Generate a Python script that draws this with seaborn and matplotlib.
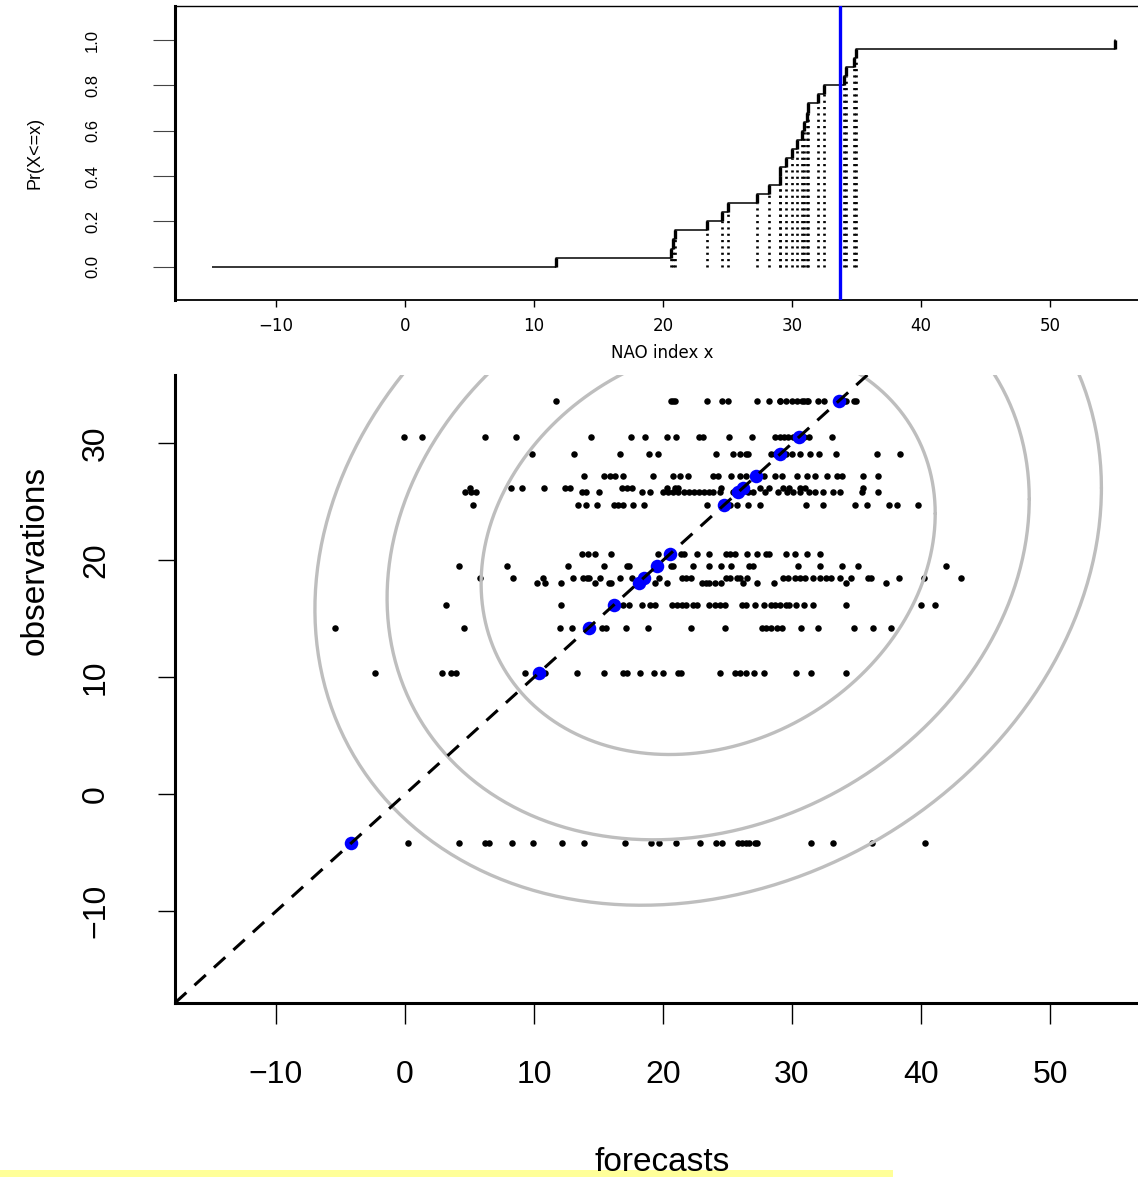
import numpy as np
import pandas as pd
import matplotlib
matplotlib.use("Agg")
import matplotlib.pyplot as plt
from matplotlib.patches import Rectangle
import seaborn as sns

sns.set_style("white")
plt.rcParams["font.family"] = ["Liberation Sans", "DejaVu Sans"]
plt.rcParams["text.color"] = "black"
plt.rcParams["axes.labelcolor"] = "black"
plt.rcParams["xtick.color"] = "black"
plt.rcParams["ytick.color"] = "black"

# ==========================================
# Data
# ==========================================

# ensemble members of the top year (ECDF panel and top scatter row)
top_members = [11.7, 20.6, 20.75, 20.9, 23.4, 24.55, 25.05, 27.3, 28.2, 29.05,
               29.1, 29.5, 30.0, 30.4, 30.75, 30.95, 31.15, 31.25, 32.0, 32.5,
               34.0, 34.2, 34.8, 34.95]
lower_bound = -15.0
upper_bound = 55.0
obs_marker = 33.7

# observed values (one scatter row each)
obs_values = [33.65, 30.55, 29.05, 27.2, 26.2, 25.8, 24.75, 20.55, 19.5,
              18.5, 18.1, 16.2, 14.25, 10.4, -4.2]

fc_30_5 = [-0.1, 1.3, 6.2, 8.6, 14.45, 17.55, 18.6, 20.3, 21.0, 22.8, 23.1,
           25.1, 26.9, 28.7, 29.1, 29.4, 29.7, 30.1, 30.9, 31.3, 33.1]
fc_29_0 = [9.85, 13.1, 16.7, 18.9, 19.6, 24.1, 25.4, 26.0, 26.4, 26.6, 28.4,
           28.7, 29.5, 30.0, 30.6, 31.4, 32.1, 33.4, 36.6, 38.4]
fc_27_2 = [13.9, 15.4, 15.9, 16.3, 16.9, 19.25, 20.8, 21.3, 21.95, 23.9, 24.3,
           25.3, 25.97, 26.4, 27.3, 27.8, 28.7, 29.2, 30.4, 31.2, 31.8, 32.7,
           33.5, 33.85, 35.5, 36.7]
fc_26_2 = [5.0, 8.2, 9.1, 10.8, 12.4, 12.8, 16.8, 17.2, 17.6, 20.3, 20.9, 21.2,
           24.5, 27.5, 28.2, 29.3, 29.8, 30.6, 31.0, 35.5]
fc_25_8 = [4.65, 5.1, 5.5, 13.7, 14.0, 15.0, 18.35, 19.0, 20.0, 20.4, 20.8,
           21.2, 21.6, 22.0, 22.4, 22.8, 23.2, 23.6, 23.9, 24.4, 25.45, 26.6,
           27.0, 27.9, 28.9, 29.6, 30.1, 30.6, 31.3, 31.8, 32.4, 33.2, 33.7,
           35.4, 36.7]
fc_24_7 = [5.25, 13.4, 14.0, 14.9, 16.2, 16.5, 16.9, 17.7, 18.5, 23.4, 25.2,
           25.7, 26.6, 27.5, 31.1, 32.4, 34.9, 35.8, 37.5, 38.1, 39.8]
fc_20_5 = [13.7, 14.2, 14.7, 16.0, 19.6, 21.4, 21.6, 22.6, 23.6, 24.9, 25.2,
           25.6, 26.5, 27.3, 28.0, 28.2, 29.5, 30.2, 31.2, 32.2]
fc_19_5 = [4.2, 7.9, 12.6, 15.4, 17.2, 17.4, 20.6, 20.8, 22.3, 23.6, 24.5,
           25.3, 26.7, 26.95, 30.5, 32.2, 33.9, 35.1, 41.9]
fc_18_5 = [5.8, 8.35, 10.7, 13.0, 13.8, 14.1, 14.3, 15.1, 16.7, 17.6, 19.7,
           21.5, 21.8, 22.2, 24.9, 25.2, 25.7, 26.0, 26.5, 29.3, 29.7, 30.2,
           30.6, 31.0, 31.65, 32.2, 32.6, 33.0, 33.7, 34.6, 35.9, 36.1, 38.3,
           40.2, 43.1]
fc_18_1 = [10.2, 10.85, 12.1, 14.7, 15.8, 16.0, 19.4, 20.3, 23.0, 23.3, 23.6,
           24.0, 24.5, 26.2, 27.3, 28.6, 34.2, 37.3]
fc_16_2 = [3.2, 12.1, 16.9, 17.4, 18.35, 19.0, 19.4, 20.7, 21.1, 21.45, 21.8,
           22.35, 22.65, 23.6, 24.0, 24.4, 24.8, 26.1, 26.4, 27.1, 27.8, 28.35,
           28.7, 29.1, 29.5, 29.8, 30.3, 30.9, 31.65, 34.2, 40.0, 41.1]
fc_14_2 = [-5.4, 4.6, 12.0, 12.97, 15.25, 15.6, 17.1, 18.85, 22.2, 24.8, 27.65,
           28.0, 28.4, 28.8, 29.2, 30.7, 32.0, 34.8, 36.3, 37.65]
fc_10_4 = [-2.3, 2.9, 3.6, 3.95, 9.3, 10.85, 13.3, 15.4, 16.9, 17.2, 18.25,
           19.3, 20.0, 21.2, 21.4, 24.4, 25.6, 26.0, 26.4, 27.05, 27.85, 30.3,
           31.5, 34.2]
fc_m4_2 = [0.2, 4.2, 6.2, 6.5, 8.3, 9.95, 12.15, 13.9, 17.05, 19.1, 19.7, 21.0,
           22.9, 24.1, 24.55, 25.8, 26.1, 26.4, 26.7, 27.1, 27.3, 31.5, 33.2,
           36.2, 40.3]

forecast_rows = [top_members, fc_30_5, fc_29_0, fc_27_2, fc_26_2, fc_25_8,
                 fc_24_7, fc_20_5, fc_19_5, fc_18_5, fc_18_1, fc_16_2, fc_14_2,
                 fc_10_4, fc_m4_2]

# bivariate normal contours (centre, sd, correlation, squared distances)
ell_center = (23.5, 21.0)
ell_sd = (17.6, 17.6)
ell_rho = 0.17
ell_levels = [1.0, 2.0, 3.0]

x_range = (-17.83, 57.75)

# ==========================================
# Figure layout (pixels of a 1138x1177 canvas)
# ==========================================

W, H = 1138, 1177
fig = plt.figure(figsize=(W / 100, H / 100), dpi=100)
ax_top = fig.add_axes([175 / W, (H - 300) / H, 975 / W, 294 / H])
ax_bot = fig.add_axes([175 / W, (H - 1003) / H, 975 / W, 628 / H])

fig.patches.append(Rectangle((0, 0), 893 / W, 7 / H, transform=fig.transFigure,
                             facecolor="#FFFF99", edgecolor="none", zorder=-1))

narrow = ["Liberation Sans Narrow", "Liberation Sans"]

# ==========================================
# Top panel: ECDF
# ==========================================

ecdf_vals = np.sort(np.array(top_members + [upper_bound]))
n = len(ecdf_vals)
levels = np.arange(n + 1) / n

members = np.sort(np.array(top_members))
ax_top.vlines(members, 0, levels[:len(members)], colors="black",
              linestyles=(0, (0.8, 1.6)), linewidth=1.9, zorder=1)

sns.ecdfplot(x=ecdf_vals, ax=ax_top, color="black", linewidth=1.1, zorder=3)
ax_top.hlines(0, lower_bound, ecdf_vals[0], colors="black", linewidth=1.1, zorder=3)
ax_top.vlines(ecdf_vals, levels[:-1], levels[1:], colors="black", linewidth=2.4, zorder=3)

ax_top.axvline(obs_marker, color="#0000FF", linewidth=2.4, zorder=4)

ax_top.set_xlim(*x_range)
ax_top.set_ylim(-0.147, 1.15)
ax_top.set_xticks([-10, 0, 10, 20, 30, 40, 50])
ax_top.set_yticks([0.0, 0.2, 0.4, 0.6, 0.8, 1.0])
ax_top.set_yticklabels(["0.0", "0.2", "0.4", "0.6", "0.8", "1.0"])
ax_top.tick_params(axis="x", direction="out", length=5, width=1, pad=7,
                   labelsize=12, bottom=True)
ax_top.tick_params(axis="y", direction="out", length=16, width=0.8, color="#444444",
                   pad=38, labelsize=12, labelrotation=90, left=True)
for lab in ax_top.get_xticklabels():
    lab.set_family("DejaVu Sans")
for lab in ax_top.get_yticklabels():
    lab.set_family(narrow)
    lab.set_va("center")

ax_top.set_xlabel("NAO index x", fontsize=12, family="DejaVu Sans")
ax_top.xaxis.set_label_coords(0.5, -0.15)
ax_top.set_ylabel("Pr(X<=x)", fontsize=13, family=narrow)
ax_top.yaxis.set_label_coords(-0.135, 0.5)

ax_top.spines["right"].set_visible(False)
ax_top.spines["left"].set_linewidth(2.2)
ax_top.spines["top"].set_linewidth(1.0)
ax_top.spines["bottom"].set_linewidth(1.3)
for s in ax_top.spines.values():
    s.set_color("black")

# ==========================================
# Bottom panel: forecasts vs observations
# ==========================================

df = pd.DataFrame({
    "forecasts": np.concatenate(forecast_rows),
    "observations": np.concatenate([[o] * len(r) for o, r in zip(obs_values, forecast_rows)]),
})

sns.scatterplot(data=df, x="forecasts", y="observations", color="black", s=22,
                linewidth=0, ax=ax_bot, zorder=2)

t = np.linspace(0, 2 * np.pi, 400)
cov = np.array([[ell_sd[0] ** 2, ell_rho * ell_sd[0] * ell_sd[1]],
                [ell_rho * ell_sd[0] * ell_sd[1], ell_sd[1] ** 2]])
chol = np.linalg.cholesky(cov)
for lev in ell_levels:
    circ = np.sqrt(lev) * np.vstack([np.cos(t), np.sin(t)])
    pts = chol @ circ
    ax_bot.plot(ell_center[0] + pts[0], ell_center[1] + pts[1],
                color="#BEBEBE", linewidth=2.4, zorder=3)

sns.scatterplot(x=obs_values, y=obs_values, color="#0000FF", s=95, linewidth=0,
                ax=ax_bot, zorder=4)
ax_bot.axline((0, 0), slope=1, color="black", linewidth=2.2,
              linestyle=(0, (5, 3.6)), zorder=5)

ax_bot.set_xlim(*x_range)
ax_bot.set_ylim(-17.84, 35.84)
ax_bot.set_xticks([-10, 0, 10, 20, 30, 40, 50])
ax_bot.set_yticks([-10, 0, 10, 20, 30])
ax_bot.tick_params(axis="x", direction="out", length=15, width=1, pad=26,
                   labelsize=23, bottom=True)
ax_bot.tick_params(axis="y", direction="out", length=12, width=1, pad=34,
                   labelsize=23, labelrotation=90, left=True)
for lab in ax_bot.get_yticklabels():
    lab.set_va("center")

ax_bot.set_xlabel("forecasts", fontsize=24)
ax_bot.xaxis.set_label_coords(0.5, -0.229)
ax_bot.set_ylabel("observations", fontsize=24)
ax_bot.yaxis.set_label_coords(-0.128, 0.704)

ax_bot.spines["top"].set_visible(False)
ax_bot.spines["right"].set_visible(False)
ax_bot.spines["left"].set_linewidth(2.2)
ax_bot.spines["bottom"].set_linewidth(2.2)
for s in ax_bot.spines.values():
    s.set_color("black")

plt.savefig("out.png", dpi=100)
